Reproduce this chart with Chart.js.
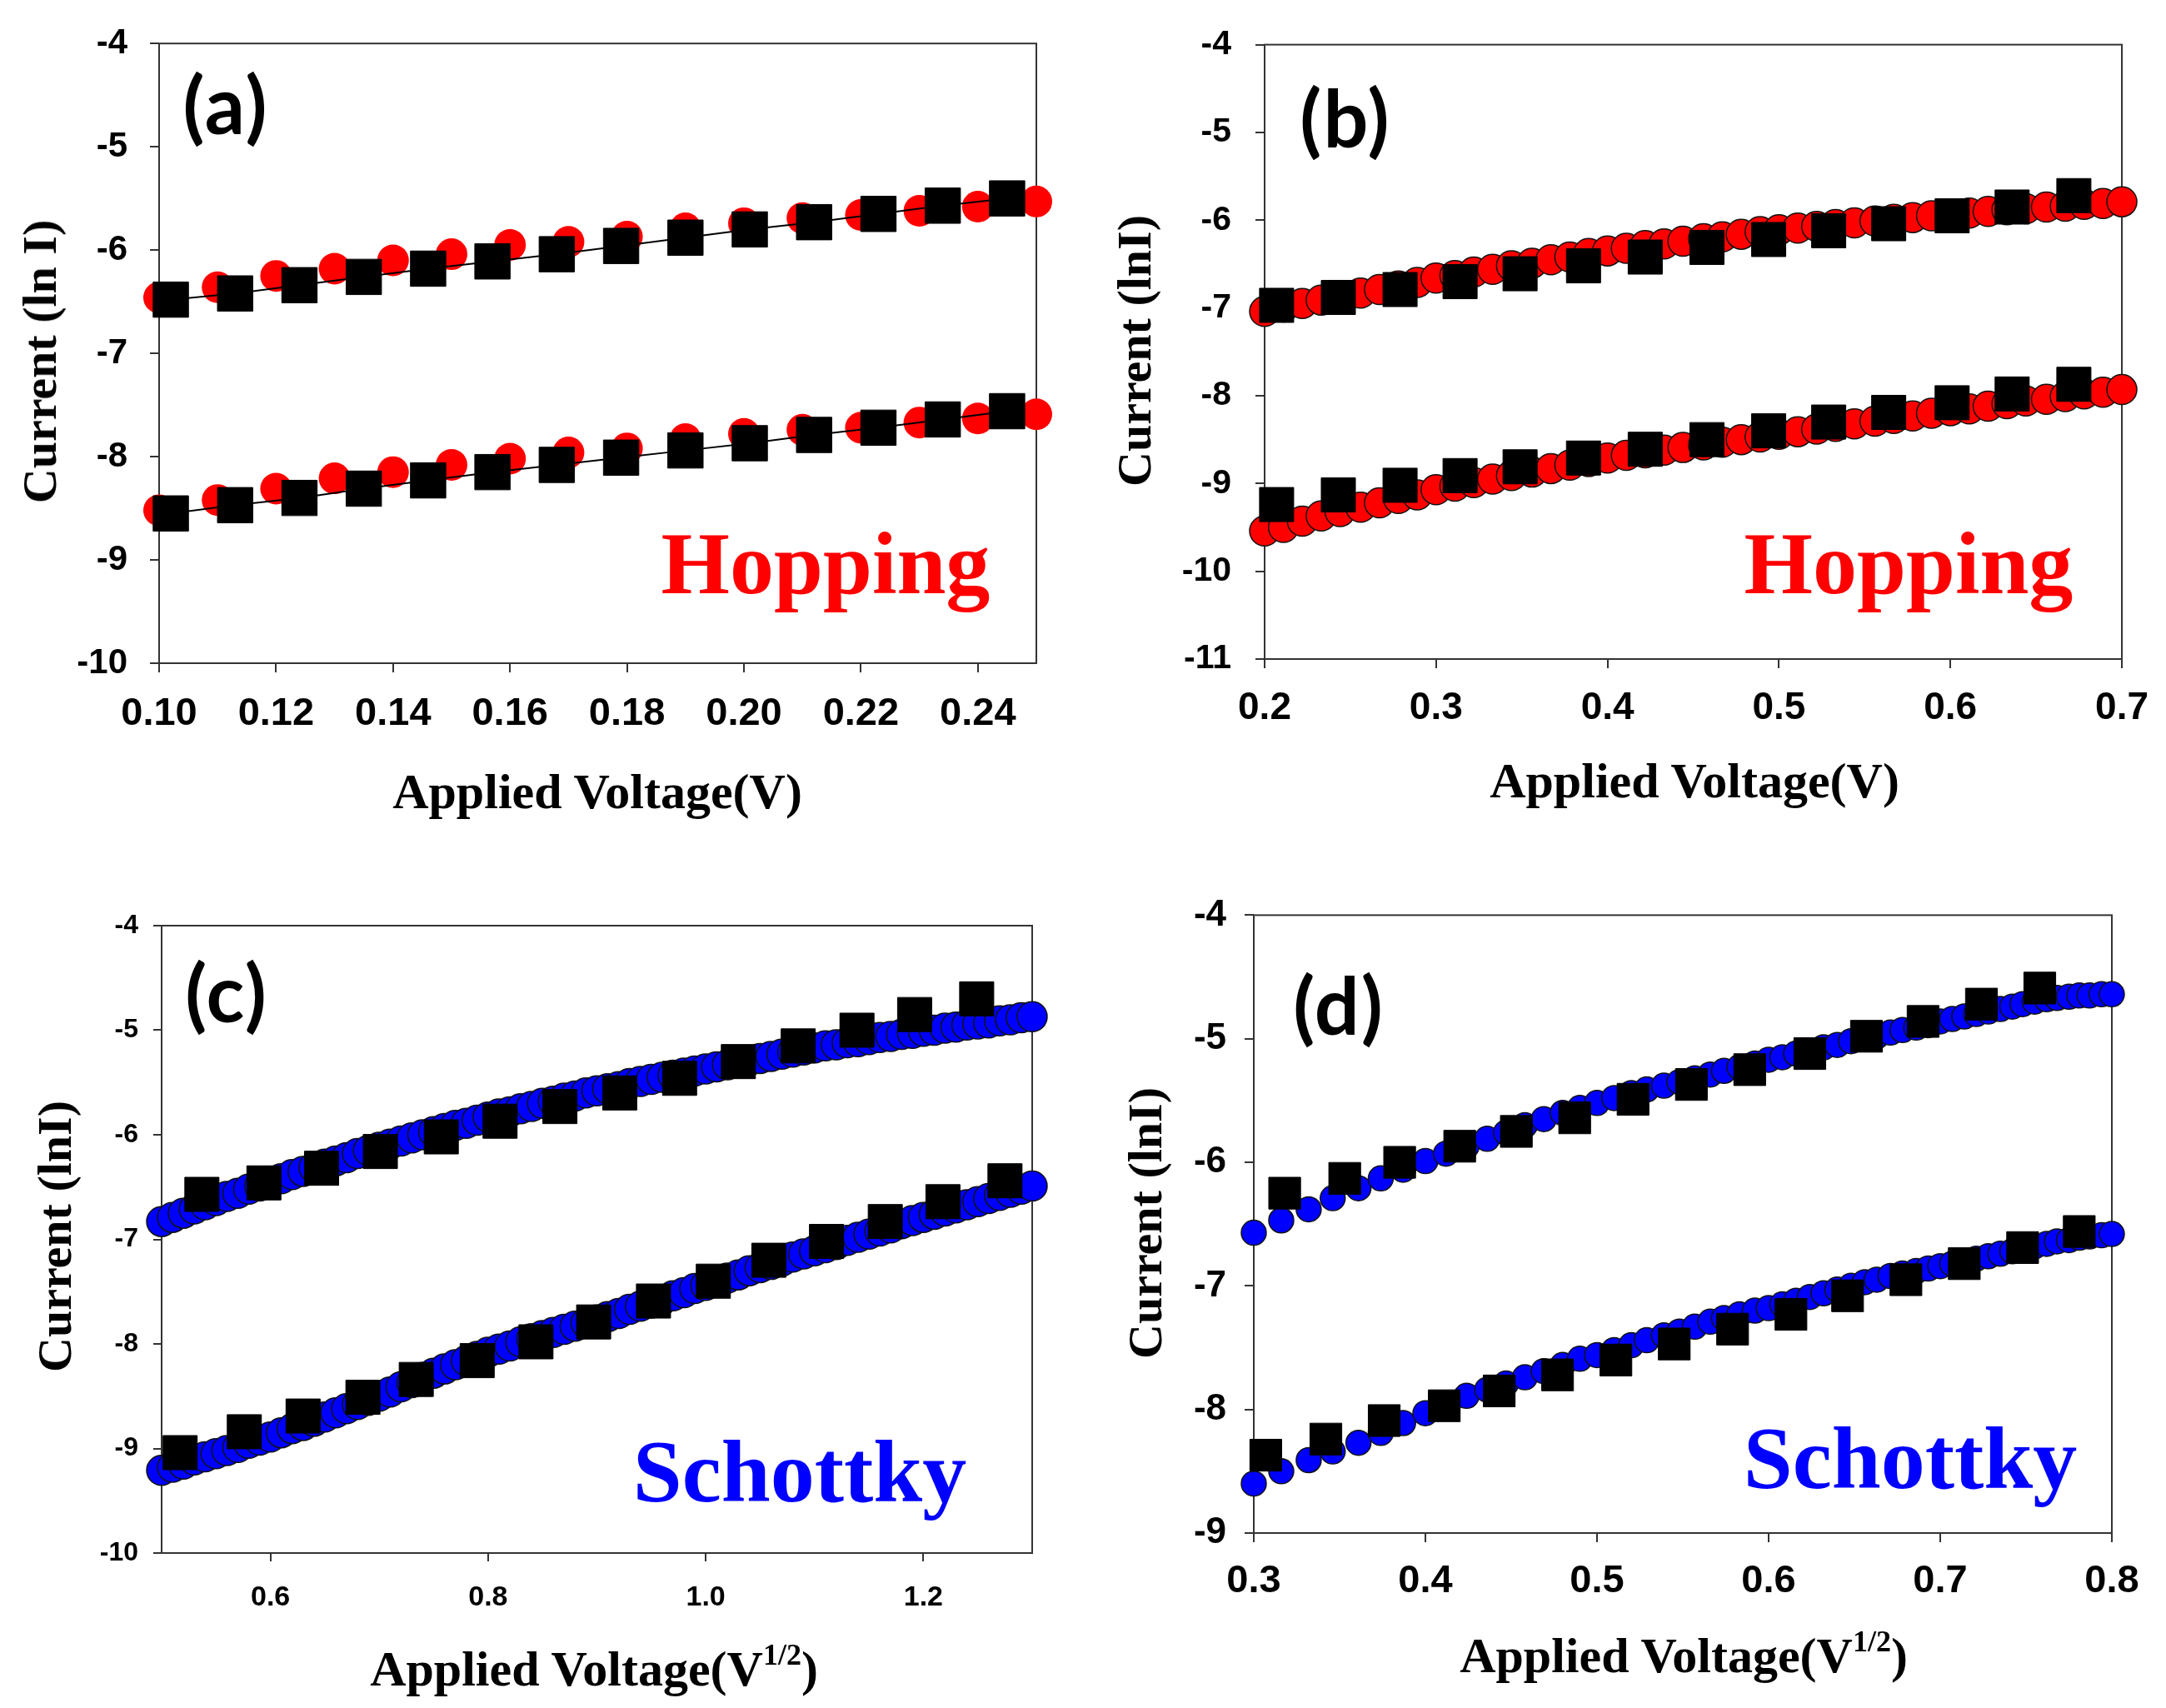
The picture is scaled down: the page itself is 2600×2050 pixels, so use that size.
<!DOCTYPE html>
<html>
<head>
<meta charset="utf-8">
<script src="https://cdn.jsdelivr.net/npm/chart.js@4.4.1/dist/chart.umd.min.js"></script>
<style>
  body { margin: 0; background: #fff; }
  #page { position: relative; width: 2600px; height: 2050px; background: #fff; overflow: hidden; }
  canvas { position: absolute; }
  .txt { position: absolute; white-space: nowrap; line-height: 1; transform: translate(-50%, -50%); color: #000; }
  .ttl { font-family: "Liberation Serif", "Times New Roman", serif; font-weight: bold; font-size: 60px; }
  .ytl { font-size: 58px; transform: translate(-50%, -50%) rotate(-90deg); }
  .tag { font-family: Lato, "Open Sans", sans-serif; font-weight: bold; font-size: 95px; letter-spacing: 2px; }
  .mech { font-family: "Liberation Serif", "Times New Roman", serif; font-weight: bold; font-size: 106px; }
  sup { font-size: 0.6em; line-height: 0; vertical-align: 0.7em; }
</style>
</head>
<body>
<div id="page">
  <canvas id="chartA" width="1300" height="1000" style="left:0;top:0;width:1300px;height:1000px"></canvas>
  <canvas id="chartB" width="1300" height="1000" style="left:1300px;top:0;width:1300px;height:1000px"></canvas>
  <canvas id="chartC" width="1300" height="1000" style="left:0;top:1050px;width:1300px;height:1000px"></canvas>
  <canvas id="chartD" width="1300" height="1000" style="left:1300px;top:1050px;width:1300px;height:1000px"></canvas>

  <div class="txt ttl" style="left:717px;top:950px">Applied Voltage(V)</div>
  <div class="txt ttl ytl" style="left:48px;top:434px">Current (ln I)</div>
  <div class="txt tag" style="left:271px;top:124px">(a)</div>
  <div class="txt mech" style="left:991px;top:677px;color:#ff0000">Hopping</div>

  <div class="txt ttl" style="left:2034px;top:937px">Applied Voltage(V)</div>
  <div class="txt ttl ytl" style="left:1362px;top:421px">Current (lnI)</div>
  <div class="txt tag" style="left:1615px;top:140px">(b)</div>
  <div class="txt mech" style="left:2291px;top:677px;color:#ff0000">Hopping</div>

  <div class="txt ttl" style="left:713px;top:2003px">Applied Voltage(V<sup>1/2</sup>)</div>
  <div class="txt ttl ytl" style="left:66px;top:1484px">Current (lnI)</div>
  <div class="txt tag" style="left:272px;top:1190px">(c)</div>
  <div class="txt mech" style="left:960px;top:1767px;color:#0000ff">Schottky</div>

  <div class="txt ttl" style="left:2021px;top:1987px">Applied Voltage(V<sup>1/2</sup>)</div>
  <div class="txt ttl ytl" style="left:1375px;top:1468px">Current (lnI)</div>
  <div class="txt tag" style="left:1607px;top:1205px">(d)</div>
  <div class="txt mech" style="left:2293px;top:1751px;color:#0000ff">Schottky</div>
</div>
<script>
// ---- panel (a): hopping, V
var aX = [0.10, 0.11, 0.12, 0.13, 0.14, 0.15, 0.16, 0.17, 0.18, 0.19, 0.20, 0.21, 0.22, 0.23, 0.24, 0.25];
var aUpper = [-6.46, -6.36, -6.25, -6.18, -6.10, -6.04, -5.95, -5.92, -5.87, -5.79, -5.74, -5.69, -5.66, -5.62, -5.58, -5.53];
var aLower = [-8.52, -8.42, -8.31, -8.21, -8.15, -8.08, -8.02, -7.96, -7.92, -7.83, -7.78, -7.74, -7.72, -7.67, -7.63, -7.59];
var aFitX = [0.102, 0.113, 0.124, 0.135, 0.146, 0.157, 0.168, 0.179, 0.190, 0.201, 0.212, 0.223, 0.234, 0.245];
var aFitUpper = [-6.48, -6.42, -6.34, -6.26, -6.18, -6.11, -6.04, -5.96, -5.88, -5.80, -5.73, -5.65, -5.57, -5.50];
var aFitLower = [-8.55, -8.47, -8.40, -8.31, -8.23, -8.15, -8.08, -8.01, -7.94, -7.87, -7.79, -7.72, -7.64, -7.56];
var aXTicks = [0.10, 0.12, 0.14, 0.16, 0.18, 0.20, 0.22, 0.24];
var aYTicks = [-10, -9, -8, -7, -6, -5, -4];

// ---- panel (b): hopping, V
var bX = [0.200, 0.211, 0.222, 0.233, 0.244, 0.256, 0.267, 0.278, 0.289, 0.300, 0.311, 0.322, 0.333, 0.344, 0.356, 0.367,
          0.378, 0.389, 0.400, 0.411, 0.422, 0.433, 0.444, 0.456, 0.467, 0.478, 0.489, 0.500, 0.511, 0.522, 0.533,
          0.544, 0.556, 0.567, 0.578, 0.589, 0.600, 0.611, 0.622, 0.633, 0.644, 0.656, 0.667, 0.678, 0.689, 0.700];
var bUpper = [-7.04, -6.99, -6.95, -6.91, -6.87, -6.83, -6.79, -6.75, -6.71, -6.66, -6.63, -6.59, -6.56, -6.52, -6.49, -6.45,
              -6.42, -6.38, -6.35, -6.32, -6.29, -6.27, -6.24, -6.21, -6.19, -6.16, -6.13, -6.11, -6.09, -6.07, -6.05,
              -6.03, -6.01, -5.99, -5.97, -5.95, -5.93, -5.92, -5.90, -5.88, -5.87, -5.85, -5.84, -5.82, -5.81, -5.79];
var bLower = [-9.54, -9.50, -9.43, -9.37, -9.32, -9.27, -9.22, -9.17, -9.13, -9.07, -9.03, -8.99, -8.95, -8.91, -8.87, -8.83,
              -8.79, -8.75, -8.71, -8.68, -8.65, -8.62, -8.59, -8.56, -8.53, -8.50, -8.47, -8.44, -8.41, -8.38, -8.35,
              -8.32, -8.29, -8.26, -8.23, -8.20, -8.17, -8.15, -8.12, -8.09, -8.06, -8.04, -8.01, -7.98, -7.96, -7.93];
var bFitX = [0.207, 0.243, 0.279, 0.314, 0.349, 0.386, 0.422, 0.458, 0.494, 0.529, 0.564, 0.601, 0.636, 0.672];
var bFitUpper = [-6.97, -6.88, -6.79, -6.70, -6.61, -6.52, -6.42, -6.31, -6.22, -6.12, -6.04, -5.95, -5.85, -5.72];
var bFitLower = [-9.24, -9.13, -9.02, -8.91, -8.81, -8.71, -8.61, -8.50, -8.40, -8.30, -8.19, -8.08, -7.98, -7.87];
var bXTicks = [0.2, 0.3, 0.4, 0.5, 0.6, 0.7];
var bYTicks = [-11, -10, -9, -8, -7, -6, -5, -4];

// ---- panel (c): schottky, V^1/2
var cX = [0.50, 0.51, 0.52, 0.53, 0.54, 0.55, 0.56, 0.57, 0.58, 0.59, 0.60, 0.61, 0.62, 0.63, 0.64, 0.65, 0.66, 0.67, 0.68, 0.69,
          0.70, 0.71, 0.72, 0.73, 0.74, 0.75, 0.76, 0.77, 0.78, 0.79, 0.80, 0.81, 0.82, 0.83, 0.84, 0.85, 0.86, 0.87, 0.88, 0.89,
          0.90, 0.91, 0.92, 0.93, 0.94, 0.95, 0.96, 0.97, 0.98, 0.99, 1.00, 1.01, 1.02, 1.03, 1.04, 1.05, 1.06, 1.07, 1.08, 1.09,
          1.10, 1.11, 1.12, 1.13, 1.14, 1.15, 1.16, 1.17, 1.18, 1.19, 1.20, 1.21, 1.22, 1.23, 1.24, 1.25, 1.26, 1.27, 1.28, 1.29, 1.30];
var cUpper = [-6.83, -6.79, -6.75, -6.71, -6.67, -6.63, -6.59, -6.56, -6.52, -6.49, -6.45, -6.42, -6.38, -6.35, -6.31, -6.28, -6.25, -6.22, -6.18, -6.15,
              -6.12, -6.09, -6.06, -6.03, -6.00, -5.97, -5.94, -5.91, -5.89, -5.86, -5.83, -5.80, -5.78, -5.75, -5.73, -5.70, -5.68, -5.65, -5.63, -5.60,
              -5.58, -5.56, -5.54, -5.51, -5.49, -5.47, -5.45, -5.43, -5.41, -5.39, -5.37, -5.35, -5.33, -5.31, -5.29, -5.27, -5.25, -5.23, -5.21, -5.19,
              -5.17, -5.15, -5.14, -5.12, -5.11, -5.09, -5.07, -5.06, -5.04, -5.03, -5.01, -5.00, -4.98, -4.97, -4.95, -4.94, -4.93, -4.91, -4.90, -4.88, -4.87];
var cLower = [-9.21, -9.18, -9.15, -9.11, -9.08, -9.05, -9.02, -8.99, -8.95, -8.92, -8.89, -8.85, -8.81, -8.78, -8.74, -8.70, -8.66, -8.62, -8.58, -8.54,
              -8.50, -8.46, -8.41, -8.37, -8.32, -8.28, -8.24, -8.20, -8.16, -8.12, -8.08, -8.05, -8.02, -7.98, -7.95, -7.92, -7.89, -7.86, -7.83, -7.80,
              -7.77, -7.74, -7.71, -7.67, -7.64, -7.61, -7.58, -7.54, -7.51, -7.47, -7.44, -7.41, -7.37, -7.34, -7.30, -7.27, -7.24, -7.21, -7.17, -7.14,
              -7.11, -7.08, -7.05, -7.01, -6.98, -6.95, -6.92, -6.89, -6.85, -6.82, -6.79, -6.76, -6.73, -6.70, -6.67, -6.64, -6.61, -6.58, -6.55, -6.52, -6.49];
var cFitUpperX = [0.537, 0.594, 0.647, 0.701, 0.757, 0.811, 0.866, 0.921, 0.976, 1.030, 1.085, 1.139, 1.192, 1.249];
var cFitUpper = [-6.57, -6.46, -6.32, -6.16, -6.02, -5.87, -5.73, -5.60, -5.46, -5.30, -5.15, -5.00, -4.85, -4.70];
var cFitLowerX = [0.517, 0.576, 0.630, 0.685, 0.734, 0.790, 0.844, 0.897, 0.952, 1.007, 1.058, 1.111, 1.165, 1.218, 1.275];
var cFitLower = [-9.04, -8.84, -8.69, -8.51, -8.34, -8.16, -7.98, -7.79, -7.59, -7.40, -7.20, -7.02, -6.83, -6.64, -6.44];
var cXTicks = [0.6, 0.8, 1.0, 1.2];
var cYTicks = [-10, -9, -8, -7, -6, -5, -4];

// ---- panel (d): schottky, V^1/2
var dX = [0.300, 0.316, 0.332, 0.346, 0.361, 0.374, 0.387, 0.400, 0.412, 0.424, 0.436, 0.447, 0.458, 0.469, 0.480, 0.490,
          0.500, 0.510, 0.520, 0.529, 0.539, 0.548, 0.557, 0.566, 0.574, 0.583, 0.592, 0.600, 0.608, 0.616, 0.624, 0.632,
          0.640, 0.648, 0.656, 0.663, 0.671, 0.678, 0.686, 0.693, 0.700, 0.707, 0.714, 0.721, 0.728, 0.735, 0.742, 0.748,
          0.755, 0.762, 0.768, 0.775, 0.781, 0.787, 0.794, 0.800];
var dUpper = [-6.57, -6.47, -6.38, -6.29, -6.21, -6.13, -6.06, -5.99, -5.93, -5.87, -5.81, -5.76, -5.70, -5.65, -5.60, -5.56,
              -5.52, -5.48, -5.44, -5.41, -5.38, -5.35, -5.32, -5.29, -5.26, -5.23, -5.20, -5.17, -5.15, -5.12, -5.10, -5.07,
              -5.05, -5.02, -5.00, -4.98, -4.95, -4.93, -4.91, -4.89, -4.86, -4.84, -4.82, -4.80, -4.78, -4.76, -4.74, -4.72,
              -4.70, -4.68, -4.67, -4.66, -4.65, -4.65, -4.64, -4.64];
var dLower = [-8.60, -8.50, -8.41, -8.34, -8.27, -8.19, -8.11, -8.03, -7.96, -7.89, -7.84, -7.79, -7.74, -7.69, -7.64, -7.59,
              -7.56, -7.52, -7.48, -7.44, -7.40, -7.37, -7.33, -7.29, -7.26, -7.23, -7.20, -7.18, -7.15, -7.12, -7.09, -7.06,
              -7.03, -7.00, -6.97, -6.95, -6.92, -6.90, -6.88, -6.86, -6.84, -6.82, -6.80, -6.78, -6.76, -6.74, -6.72, -6.70,
              -6.68, -6.66, -6.64, -6.63, -6.61, -6.60, -6.59, -6.58];
var dFitUpperX = [0.318, 0.353, 0.385, 0.420, 0.453, 0.487, 0.521, 0.555, 0.589, 0.624, 0.657, 0.690, 0.724, 0.758];
var dFitUpper = [-6.25, -6.13, -6.00, -5.87, -5.75, -5.64, -5.49, -5.37, -5.25, -5.12, -4.98, -4.86, -4.72, -4.59];
var dFitLowerX = [0.307, 0.342, 0.376, 0.411, 0.443, 0.477, 0.511, 0.545, 0.579, 0.613, 0.646, 0.680, 0.714, 0.748, 0.781];
var dFitLower = [-8.37, -8.24, -8.09, -7.97, -7.85, -7.72, -7.60, -7.47, -7.35, -7.23, -7.08, -6.95, -6.82, -6.69, -6.56];
var dXTicks = [0.3, 0.4, 0.5, 0.6, 0.7, 0.8];
var dYTicks = [-9, -8, -7, -6, -5, -4];

var AXIS_COLOR = '#333333';

function toPoints(xs, ys) {
    var pts = [];
    for (var i = 0; i < xs.length; i++) {
        pts.push({x: xs[i], y: ys[i]});
    }
    return pts;
}

function circles(xs, ys, color, radius, outline) {
    return {
        data: toPoints(xs, ys),
        pointStyle: 'circle',
        pointRadius: radius,
        pointBackgroundColor: color,
        pointBorderColor: outline ? '#111111' : color,
        pointBorderWidth: outline ? 1.5 : 0,
        showLine: false,
        clip: false,
        order: 2
    };
}

function squares(xs, ys, radius, withLine) {
    return {
        data: toPoints(xs, ys),
        pointStyle: 'rect',
        pointRadius: radius,
        pointBackgroundColor: '#000',
        pointBorderColor: '#000',
        pointBorderWidth: 1,
        showLine: withLine,
        borderColor: '#000',
        borderWidth: 2,
        clip: false,
        order: 1
    };
}

// box round the plot area, drawn under the markers
var framePlugin = {
    id: 'frame',
    beforeDatasetsDraw: function (chart) {
        var a = chart.chartArea;
        var ctx = chart.ctx;
        ctx.save();
        ctx.strokeStyle = AXIS_COLOR;
        ctx.lineWidth = 2;
        ctx.strokeRect(a.left, a.top, a.right - a.left, a.bottom - a.top);
        ctx.restore();
    }
};

function tickFont(size) {
    return {family: '"Liberation Sans", Arial, sans-serif', weight: 'bold', size: size};
}

function makePanel(canvasId, p) {
    return new Chart(document.getElementById(canvasId), {
        type: 'scatter',
        data: {datasets: p.datasets},
        options: {
            responsive: false,
            animation: false,
            devicePixelRatio: 1,
            events: [],
            layout: {padding: {top: p.padTop, right: p.padRight, left: 0, bottom: 0}},
            plugins: {legend: {display: false}, tooltip: {enabled: false}},
            scales: {
                x: {
                    type: 'linear',
                    min: p.xMin,
                    max: p.xMax,
                    afterBuildTicks: function (s) {
                        s.ticks = p.xTicks.map(function (v) { return {value: v}; });
                    },
                    afterFit: function (s) { s.height = p.xAxisHeight; },
                    border: {display: false},
                    grid: {drawOnChartArea: false, drawTicks: true, tickLength: p.tickLen, color: AXIS_COLOR, lineWidth: 2},
                    ticks: {
                        font: tickFont(p.xFont), color: '#000', padding: p.xPad, autoSkip: false, maxRotation: 0,
                        callback: function (v) { return Number(v).toFixed(p.xDec); }
                    }
                },
                y: {
                    type: 'linear',
                    min: p.yMin,
                    max: p.yMax,
                    afterBuildTicks: function (s) {
                        s.ticks = p.yTicks.map(function (v) { return {value: v}; });
                    },
                    afterFit: function (s) { s.width = p.yAxisWidth; },
                    border: {display: false},
                    grid: {drawOnChartArea: false, drawTicks: true, tickLength: p.tickLen, color: AXIS_COLOR, lineWidth: 2},
                    ticks: {
                        font: tickFont(p.yFont), color: '#000', padding: p.yPad, autoSkip: false,
                        callback: function (v) { return String(v); }
                    }
                }
            }
        },
        plugins: [framePlugin]
    });
}

function makeCharts() {
    makePanel('chartA', {
        datasets: [
            squares(aFitX, aFitUpper, 30, true),
            squares(aFitX, aFitLower, 30, true),
            circles(aX, aUpper, '#ff0000', 19, false),
            circles(aX, aLower, '#ff0000', 19, false)
        ],
        xMin: 0.10, xMax: 0.25, yMin: -10, yMax: -4,
        xTicks: aXTicks, yTicks: aYTicks, xDec: 2,
        padTop: 37, padRight: 56, yAxisWidth: 191, xAxisHeight: 204,
        xFont: 47, yFont: 42, tickLen: 11, xPad: 22, yPad: 27
    });

    makePanel('chartB', {
        datasets: [
            squares(bFitX, bFitUpper, 29, false),
            squares(bFitX, bFitLower, 29, false),
            circles(bX, bUpper, '#ff0000', 18, true),
            circles(bX, bLower, '#ff0000', 18, true)
        ],
        xMin: 0.2, xMax: 0.7, yMin: -11, yMax: -4,
        xTicks: bXTicks, yTicks: bYTicks, xDec: 1,
        padTop: 48, padRight: 52, yAxisWidth: 218, xAxisHeight: 209,
        xFont: 46, yFont: 41, tickLen: 11, xPad: 21, yPad: 29
    });

    makePanel('chartC', {
        datasets: [
            squares(cFitUpperX, cFitUpper, 29, false),
            squares(cFitLowerX, cFitLower, 29, false),
            circles(cX, cUpper, '#0000ff', 18, true),
            circles(cX, cLower, '#0000ff', 18, true)
        ],
        xMin: 0.5, xMax: 1.3, yMin: -10, yMax: -4,
        xTicks: cXTicks, yTicks: cYTicks, xDec: 1,
        padTop: 61, padRight: 61, yAxisWidth: 194, xAxisHeight: 186,
        xFont: 34, yFont: 32, tickLen: 10, xPad: 23, yPad: 18
    });

    makePanel('chartD', {
        datasets: [
            squares(dFitUpperX, dFitUpper, 27, false),
            squares(dFitLowerX, dFitLower, 27, false),
            circles(dX, dUpper, '#0000ff', 15, true),
            circles(dX, dLower, '#0000ff', 15, true)
        ],
        xMin: 0.3, xMax: 0.8, yMin: -9, yMax: -4,
        xTicks: dXTicks, yTicks: dYTicks, xDec: 1,
        padTop: 46, padRight: 65, yAxisWidth: 205, xAxisHeight: 210,
        xFont: 47, yFont: 44, tickLen: 11, xPad: 19, yPad: 22
    });
}

document.addEventListener('DOMContentLoaded', makeCharts);
</script>
</body>
</html>
